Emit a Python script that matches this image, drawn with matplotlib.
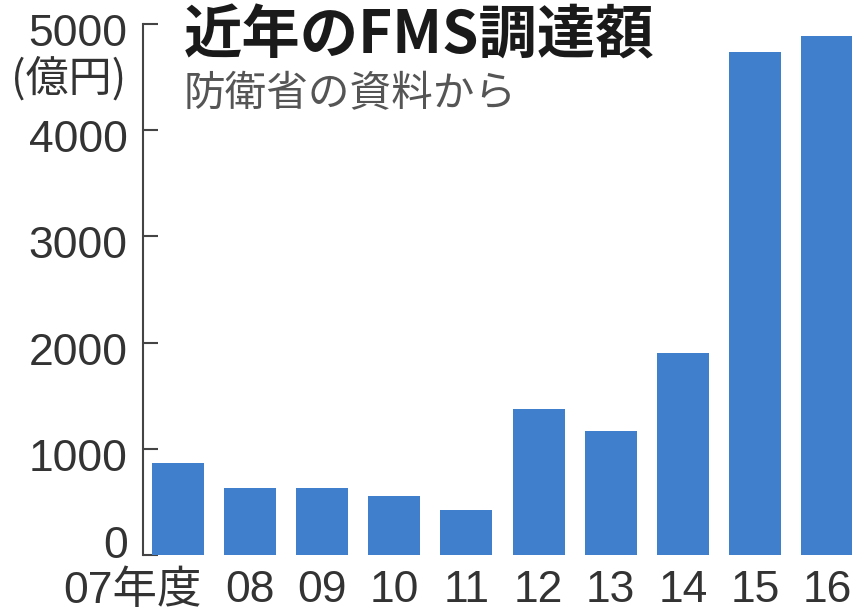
import matplotlib
matplotlib.use("Agg")
import matplotlib.pyplot as plt
import matplotlib.transforms as mtransforms

years = ["07年度", "08", "09", "10", "11", "12", "13", "14", "15", "16"]
amounts = [866, 631, 631, 556, 424, 1375, 1168, 1902, 4736, 4887]
yticks = [0, 1000, 2000, 3000, 4000, 5000]

title = "近年のFMS調達額"
subtitle = "防衛省の資料から"
unit = "(億円)"

bar_color = "#3f7fcb"
axis_color = "#444444"
num_font = ["Liberation Sans", "Noto Sans CJK JP"]
cjk_font = ["Noto Sans CJK JP", "DejaVu Sans"]

fig = plt.figure(figsize=(8.53, 6.16), dpi=100)
ax = fig.add_axes([0.1676, 0.099, 0.8324, 0.862])

x = list(range(len(years)))
ax.bar(x, amounts, width=0.72, color=bar_color, zorder=2)

ax.set_xlim(-0.485, len(years) - 1 + 0.36)
ax.set_ylim(0, 5000)

for side in ["top", "right", "bottom"]:
    ax.spines[side].set_visible(False)
ax.spines["left"].set_color(axis_color)
ax.spines["left"].set_linewidth(1.5)

ax.set_yticks(yticks)
ax.set_yticklabels([str(v) for v in yticks], family=num_font, fontsize=32, color="#333333")
ax.tick_params(axis="y", direction="in", length=11, width=1.5, color=axis_color, pad=11)

# labels sit a little below their ticks, the 0 is lifted clear of the year labels
for lab in ax.get_yticklabels():
    dy = 0.13 if lab.get_text() == "0" else -0.06
    lab.set_transform(lab.get_transform() + mtransforms.ScaledTranslation(0, dy, fig.dpi_scale_trans))

ax.set_xticks(x)
ax.set_xticklabels(years, family=num_font, fontsize=32, color="#333333")
ax.tick_params(axis="x", length=0, pad=11)

# first label ("07年度") sits to the left of its bar
first = ax.get_xticklabels()[0]
first.set_ha("right")
first.set_transform(first.get_transform() + mtransforms.ScaledTranslation(0.24, 0, fig.dpi_scale_trans))

fig.text(0.080, 0.872, unit, family=cjk_font, fontsize=31, color="#333333",
         ha="center", va="center")

fig.text(0.215, 0.941, title, family=cjk_font, fontsize=42, fontweight="bold",
         color="#1a1a1a", ha="left", va="center")
fig.text(0.215, 0.846, subtitle, family=cjk_font, fontsize=30, color="#555555",
         ha="left", va="center")

fig.savefig("out.png", dpi=100)
